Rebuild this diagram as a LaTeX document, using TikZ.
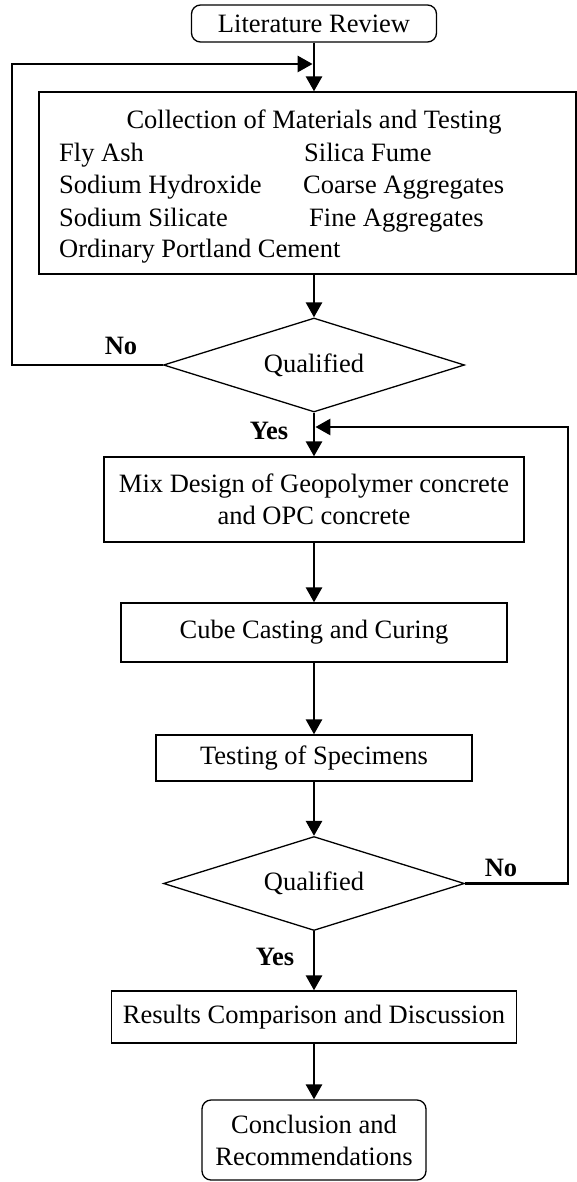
\documentclass[tikz,border=0pt]{standalone}
\usepackage{fontspec}
\setmainfont{Liberation Serif}
\usetikzlibrary{arrows.meta,shapes.geometric}

\tikzset{
  txt/.style={font=\fontsize{26.5pt}{32pt}\selectfont, inner sep=0pt},
  lbl/.style={font=\fontsize{26.5pt}{32pt}\selectfont\bfseries, inner sep=0pt},
  procbox/.style={txt, draw, line width=1.3pt, rectangle, align=center},
  termbox/.style={procbox, rounded corners=9pt},
  decide/.style={txt, draw, line width=1.3pt, diamond, aspect=3.2,
    minimum width=301pt, minimum height=94pt},
  flow/.style={line width=2.8pt, -{Triangle[length=15pt,width=16pt]}}
}

\begin{document}
\begin{tikzpicture}[x=1pt,y=-1pt]
\useasboundingbox (0,0) rectangle (577,1182);

% process chain, centred on x = 314
\node[termbox, minimum width=245pt, minimum height=37pt] (lit) at (314,23.5) {Literature Review};
\node[procbox, minimum width=537pt, minimum height=182pt] (coll) at (307.5,183) {};
\node[txt, anchor=base] (colltitle) at (314,129) {Collection of Materials and Testing};
\node[txt, anchor=base west] (m1) at (59,162) {Fly Ash};
\node[txt, anchor=base west] (m2) at (304,162) {Silica Fume};
\node[txt, anchor=base west] (m3) at (59,194) {Sodium Hydroxide};
\node[txt, anchor=base west] (m4) at (303,194) {Coarse Aggregates};
\node[txt, anchor=base west] (m5) at (59,226) {Sodium Silicate};
\node[txt, anchor=base west] (m6) at (309,226) {Fine Aggregates};
\node[txt, anchor=base west] (m7) at (59,257) {Ordinary Portland Cement};

\node[decide] (q1) at (314,365) {Qualified};
\node[procbox, minimum width=420pt, minimum height=85pt] (mix) at (314,499.5)
  {Mix Design of Geopolymer concrete\\and OPC concrete};
\node[procbox, minimum width=386pt, minimum height=59pt] (cube) at (314,632.5) {Cube Casting and Curing};
\node[procbox, minimum width=316pt, minimum height=46pt] (test) at (314,758) {Testing of Specimens};
\node[decide] (q2) at (314,883.5) {Qualified};
\node[procbox, minimum width=405pt, minimum height=52pt] (res) at (314,1017) {Results Comparison and Discussion};
\node[termbox, minimum width=224pt, minimum height=80pt] (conc) at (314,1140)
  {Conclusion and\\Recommendations};

% branch labels
\node[lbl] (no1) at (121,346) {No};
\node[lbl] (yes1) at (269,431) {Yes};
\node[lbl] (no2) at (501,868) {No};
\node[lbl] (yes2) at (275,957) {Yes};

% loop-back junctions
\coordinate (leftx) at (12,0);
\coordinate (rightx) at (568,0);
\coordinate (j1) at (312.6,64);
\coordinate (j2) at (315.4,427);

% main flow
\draw[flow] (lit.south) -- (lit.south |- coll.north);
\draw[flow] (coll.south -| q1.north) -- (q1.north);
\draw[flow] (q1.south) -- (mix.north);
\draw[flow] (mix.south) -- (cube.north);
\draw[flow] (cube.south) -- (test.north);
\draw[flow] (test.south) -- (q2.north);
\draw[flow] (q2.south) -- (res.north);
\draw[flow] (res.south) -- (conc.north);

% feedback loops
\draw[flow] (q1.west) -- (q1.west -| leftx) |- (j1);
\draw[flow] (q2.east) -- (q2.east -| rightx) |- (j2);
\end{tikzpicture}
\end{document}
